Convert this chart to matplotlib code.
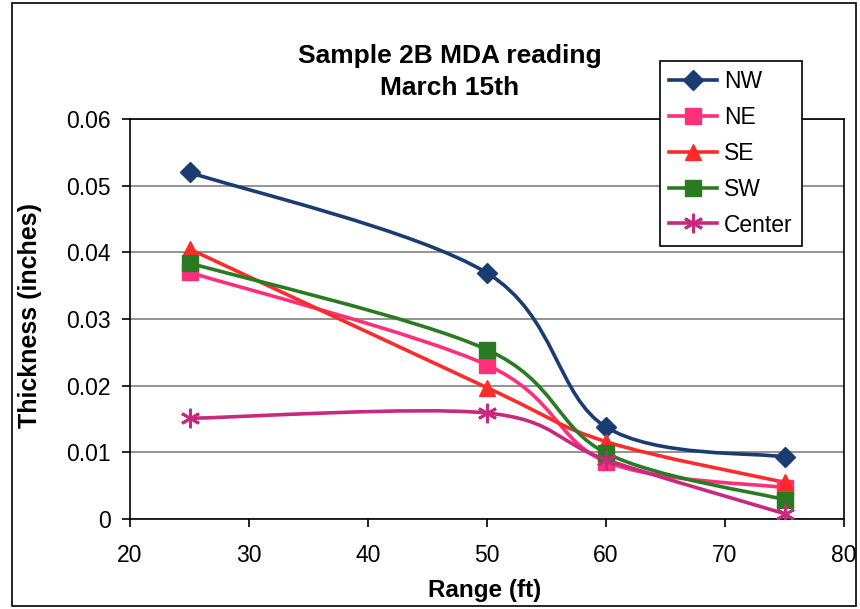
import matplotlib
matplotlib.use('Agg')
import matplotlib.pyplot as plt
from matplotlib.path import Path
from matplotlib.patches import PathPatch, Rectangle
from matplotlib.lines import Line2D

plt.rcParams['font.family'] = ['Liberation Sans', 'DejaVu Sans']

range_ft = [25, 50, 60, 75]
nw = [0.052, 0.0369, 0.0138, 0.0093]
ne = [0.037, 0.0231, 0.0086, 0.0047]
se = [0.0405, 0.0197, 0.0116, 0.0055]
sw = [0.0384, 0.0254, 0.0099, 0.0029]
center = [0.0151, 0.0159, 0.0089, 0.0008]

labels = ['NW', 'NE', 'SE', 'SW', 'Center']
colors = ['#1b3c72', '#ff2f7a', '#ff2b2b', '#2a7a22', '#c9287e']
markers = ['D', 's', '^', 's', (6, 2, 0)]
sizes = [10.5, 11, 12, 11, 14]


def smooth_path(xs, ys):
    # excel-like smoothed line: cubic bezier, catmull-rom control points
    pts = list(zip(xs, ys))
    verts = [pts[0]]
    codes = [Path.MOVETO]
    n = len(pts)
    for i in range(n - 1):
        p0 = pts[max(i - 1, 0)]
        p1 = pts[i]
        p2 = pts[i + 1]
        p3 = pts[min(i + 2, n - 1)]
        c1 = (p1[0] + (p2[0] - p0[0]) / 6, p1[1] + (p2[1] - p0[1]) / 6)
        c2 = (p2[0] - (p3[0] - p1[0]) / 6, p2[1] - (p3[1] - p1[1]) / 6)
        verts += [c1, c2, p2]
        codes += [Path.CURVE4] * 3
    return Path(verts, codes)


fig = plt.figure(figsize=(8.6, 6.09), dpi=100)
ax = fig.add_axes([130 / 860, 90 / 609, 714 / 860, 400 / 609])

series = [nw, ne, se, sw, center]
handles = []
for ys, lab, c, m, s in zip(series, labels, colors, markers, sizes):
    ax.add_patch(PathPatch(smooth_path(range_ft, ys), fill=False,
                           edgecolor=c, linewidth=2.6, zorder=3))
    mew = 2 if lab == 'Center' else 1
    ax.plot(range_ft, ys, linestyle='none', marker=m, markersize=s,
            color=c, markeredgewidth=mew, zorder=4)
    handles.append(Line2D([], [], color=c, linewidth=2.6, marker=m,
                          markersize=s, markeredgewidth=mew, label=lab))

ax.set_xlim(20, 80)
ax.set_ylim(0, 0.06)
ax.set_xticks([20, 30, 40, 50, 60, 70, 80])
ax.set_yticks([0, 0.01, 0.02, 0.03, 0.04, 0.05, 0.06])
ax.set_yticklabels(['0', '0.01', '0.02', '0.03', '0.04', '0.05', '0.06'])
ax.grid(axis='y', color='#808080', linewidth=1.2)
ax.set_axisbelow(True)
for sp in ax.spines.values():
    sp.set_color('black')
    sp.set_linewidth(1.2)
ax.tick_params(axis='x', direction='out', length=6, width=1.2,
               labelsize=16.5, pad=12)
ax.tick_params(axis='y', direction='out', length=6, width=1.2,
               labelsize=16.5, pad=8)

fig.text(450 / 860, 1 - 72 / 609, 'Sample 2B MDA reading\nMarch 15th',
         ha='center', va='center', fontsize=19, fontweight='bold',
         linespacing=1.4)
fig.text(30 / 860, 1 - 315 / 609, 'Thickness (inches)', rotation=90,
         ha='center', va='center', fontsize=18, fontweight='bold')
fig.text(485 / 860, 1 - 591 / 609, 'Range (ft)', ha='center',
         va='center', fontsize=17.5, fontweight='bold')

leg = fig.legend(handles=handles, loc='upper left',
                 bbox_to_anchor=(660 / 860, 1 - 61 / 609),
                 bbox_transform=fig.transFigure, borderaxespad=0,
                 fontsize=16.5, frameon=True, fancybox=False, framealpha=1,
                 edgecolor='black', labelspacing=0.56, handlelength=2.1,
                 handletextpad=0.3, borderpad=0.4, numpoints=1)
leg.get_frame().set_linewidth(1.2)

fig.patches.append(Rectangle((12 / 860, 3 / 609), 844 / 860, 603 / 609,
                             transform=fig.transFigure, fill=False,
                             edgecolor='black', linewidth=1.2))

fig.savefig('out.png', dpi=100)
